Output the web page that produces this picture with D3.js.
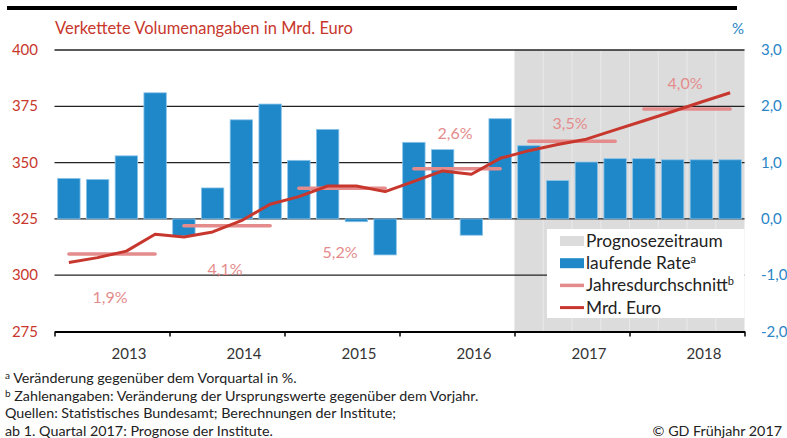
<!DOCTYPE html>
<html>
<head>
<meta charset="utf-8">
<script src="https://cdn.jsdelivr.net/npm/d3@7"></script>
<style>
  body { margin: 0; background: #fff; }
  svg { font-family: Lato, "Noto Sans", sans-serif; }
</style>
</head>
<body>
<div id="chart"></div>
<script>
// Quarters 2013 Q1 - 2018 Q4
const quarters = [
  "2013Q1", "2013Q2", "2013Q3", "2013Q4",
  "2014Q1", "2014Q2", "2014Q3", "2014Q4",
  "2015Q1", "2015Q2", "2015Q3", "2015Q4",
  "2016Q1", "2016Q2", "2016Q3", "2016Q4",
  "2017Q1", "2017Q2", "2017Q3", "2017Q4",
  "2018Q1", "2018Q2", "2018Q3", "2018Q4"
];
const years = [2013, 2014, 2015, 2016, 2017, 2018];

// laufende Rate (%), right axis
const rate = [0.72, 0.70, 1.12, 2.24, -0.30, 0.55, 1.76, 2.04,
              1.04, 1.59, -0.05, -0.64, 1.36, 1.23, -0.29, 1.78,
              1.30, 0.68, 1.01, 1.07, 1.07, 1.05, 1.05, 1.05];

// Mrd. Euro, left axis
const mrdEuro = [305.6, 307.8, 310.7, 318.2, 317.0, 319.2, 324.2, 331.5,
                 334.9, 339.6, 339.6, 337.1, 341.7, 346.3, 344.8, 351.9,
                 355.3, 358.0, 360.4, 364.5, 368.6, 372.7, 376.9, 381.0];

// Jahresdurchschnitt (left axis level) and labels
const avgLevel = [309.4, 322.0, 338.6, 347.3, 359.5, 373.8];
const avgLabel = ["1,9%", "4,1%", "5,2%", "2,6%", "3,5%", "4,0%"];

const leftTicks = [275, 300, 325, 350, 375, 400];
const rightTicks = [-2, -1, 0, 1, 2, 3];
const forecastStart = "2017Q1";

const footnotes = [
  { sup: "a", text: " Veränderung gegenüber dem Vorquartal in %." },
  { sup: "b", text: " Zahlenangaben: Veränderung der Ursprungswerte gegenüber dem Vorjahr." },
  { sup: "", text: "Quellen: Statistisches Bundesamt; Berechnungen der Institute;" },
  { sup: "", text: "ab 1. Quartal 2017: Prognose der Institute." }
];

// colours
const red = "#c8372d", pink = "#e48c8c", blue = "#1f88c9", blueText = "#2b85c6", shade = "#dcdcdc";

const width = 787, height = 438;
const pLeft = 54.5, pRight = 744.5, pTop = 50, pBottom = 331.5;

const svg = d3.select("#chart").append("svg")
  .attr("width", width)
  .attr("height", height);

const x = d3.scaleBand()
  .domain(quarters)
  .range([pLeft, pRight])
  .paddingInner(0.22)
  .paddingOuter(0.11);

const xYear = d3.scaleLinear()
  .domain([2013, 2019])
  .range([pLeft, pRight]);

const yL = d3.scaleLinear().domain([275, 400]).range([pBottom, pTop]);
const yR = d3.scaleLinear().domain([-2, 3]).range([pBottom, pTop]);

// top rule
svg.append("rect")
  .attr("x", 7).attr("y", 6)
  .attr("width", 730).attr("height", 4)
  .attr("fill", "#000");

// title
svg.append("text")
  .attr("x", 55).attr("y", 34)
  .attr("fill", red)
  .style("font-size", "16.5px")
  .text("Verkettete Volumenangaben in Mrd. Euro");

svg.append("text")
  .attr("x", 744).attr("y", 34)
  .attr("text-anchor", "end")
  .attr("fill", blueText)
  .style("font-size", "15px")
  .text("%");

// forecast shading
const fx = x(forecastStart) - x.step() * x.paddingOuter();
svg.append("rect")
  .attr("x", fx).attr("y", pTop)
  .attr("width", pRight - fx).attr("height", pBottom - pTop)
  .attr("fill", shade);

svg.selectAll(".qsep")
  .data(quarters.slice(quarters.indexOf(forecastStart) + 1))
  .enter().append("line")
  .attr("x1", d => x(d) - x.step() * x.paddingOuter())
  .attr("x2", d => x(d) - x.step() * x.paddingOuter())
  .attr("y1", pTop).attr("y2", pBottom)
  .attr("stroke", "#e9e9e9")
  .attr("stroke-width", 1);

// gridlines
svg.selectAll(".grid")
  .data(leftTicks.filter(d => d > 275))
  .enter().append("line")
  .attr("x1", pLeft).attr("x2", pRight)
  .attr("y1", d => yL(d)).attr("y2", d => yL(d))
  .attr("stroke", "#222")
  .attr("stroke-width", 1.3);

// bars
svg.selectAll(".bar")
  .data(rate)
  .enter().append("rect")
  .attr("x", (d, i) => x(quarters[i]))
  .attr("y", d => Math.min(yR(d), yR(0)))
  .attr("width", x.bandwidth())
  .attr("height", d => Math.abs(yR(d) - yR(0)))
  .attr("fill", blue)
  .attr("stroke", "#8cc4ea")
  .attr("stroke-width", 0.8);

// Jahresdurchschnitt segments
const cx = q => x(q) + x.bandwidth() / 2;
svg.selectAll(".avg")
  .data(avgLevel)
  .enter().append("line")
  .attr("x1", (d, i) => cx(quarters[i * 4]))
  .attr("x2", (d, i) => cx(quarters[i * 4 + 3]))
  .attr("y1", d => yL(d)).attr("y2", d => yL(d))
  .attr("stroke", pink)
  .attr("stroke-width", 3.5)
  .attr("stroke-linecap", "round");

// Mrd. Euro line
svg.append("path")
  .datum(mrdEuro)
  .attr("fill", "none")
  .attr("stroke", red)
  .attr("stroke-width", 3)
  .attr("stroke-linejoin", "round")
  .attr("d", d3.line().x((d, i) => cx(quarters[i])).y(d => yL(d)));

// average labels (offset from segment, px)
const labelDy = [49, 49, 70, -30, -12, -20];
svg.selectAll(".avgLabel")
  .data(avgLabel)
  .enter().append("text")
  .attr("x", (d, i) => (cx(quarters[i * 4]) + cx(quarters[i * 4 + 3])) / 2 - 2)
  .attr("y", (d, i) => yL(avgLevel[i]) + labelDy[i])
  .attr("text-anchor", "middle")
  .attr("fill", pink)
  .style("font-size", "16px")
  .text(d => d);

// x axis
svg.append("g")
  .attr("transform", `translate(0,${pBottom})`)
  .call(d3.axisBottom(xYear).tickValues(d3.range(2013, 2020)).tickSize(5).tickSizeOuter(0).tickFormat(""))
  .call(g => g.select(".domain").attr("stroke", "#000").attr("stroke-width", 2))
  .call(g => g.selectAll(".tick line").attr("stroke", "#000").attr("stroke-width", 1.5));

svg.selectAll(".year")
  .data(years)
  .enter().append("text")
  .attr("x", d => xYear(d + 0.5) + 17)
  .attr("y", 359)
  .attr("text-anchor", "middle")
  .attr("fill", "#333")
  .style("font-size", "15px")
  .text(d => d);

// left axis labels
svg.selectAll(".lt")
  .data(leftTicks)
  .enter().append("text")
  .attr("x", 38).attr("y", d => yL(d) + 5)
  .attr("text-anchor", "end")
  .attr("fill", red)
  .style("font-size", "15px")
  .text(d => d);

// right axis labels
svg.selectAll(".rt")
  .data(rightTicks)
  .enter().append("text")
  .attr("x", 761).attr("y", d => yR(d) + 5)
  .attr("fill", blueText)
  .style("font-size", "15px")
  .text(d => d3.format(".1f")(d).replace(".", ",").replace("\u2212", "-"));

// legend
const lg = svg.append("g");
lg.append("rect")
  .attr("x", 547).attr("y", 229)
  .attr("width", pRight - 547).attr("height", 89)
  .attr("fill", "#fff");

const legendItems = [
  { label: "Prognosezeitraum", sup: "", type: "box", color: shade },
  { label: "laufende Rate", sup: "a", type: "box", color: blue },
  { label: "Jahresdurchschnitt", sup: "b", type: "line", color: pink, w: 3.5 },
  { label: "Mrd. Euro", sup: "", type: "line", color: red, w: 3 }
];
legendItems.forEach((d, i) => {
  const yc = 241 + i * 22.2;
  if (d.type === "box") {
    lg.append("rect")
      .attr("x", 560).attr("y", yc - 5)
      .attr("width", 24).attr("height", 10)
      .attr("fill", d.color);
  } else {
    lg.append("line")
      .attr("x1", 560).attr("x2", 584)
      .attr("y1", yc).attr("y2", yc)
      .attr("stroke", d.color)
      .attr("stroke-width", d.w);
  }
  const t = lg.append("text")
    .attr("x", 586).attr("y", yc + 6)
    .attr("fill", "#222")
    .style("font-size", "17.3px")
    .text(d.label);
  if (d.sup) {
    t.append("tspan")
      .attr("dy", -6)
      .style("font-size", "11px")
      .text(d.sup);
  }
});

// footnotes
footnotes.forEach((d, i) => {
  const t = svg.append("text")
    .attr("x", 5).attr("y", 383 + i * 17.5)
    .attr("fill", "#222")
    .style("font-size", "14.3px");
  if (d.sup) {
    t.append("tspan").attr("dy", -4).style("font-size", "10px").text(d.sup);
    t.append("tspan").attr("dy", 4).text(d.text);
  } else {
    t.text(d.text);
  }
});

svg.append("text")
  .attr("x", 782).attr("y", 435.5)
  .attr("text-anchor", "end")
  .attr("fill", "#222")
  .style("font-size", "14.3px")
  .text("© GD Frühjahr 2017");
</script>
</body>
</html>
